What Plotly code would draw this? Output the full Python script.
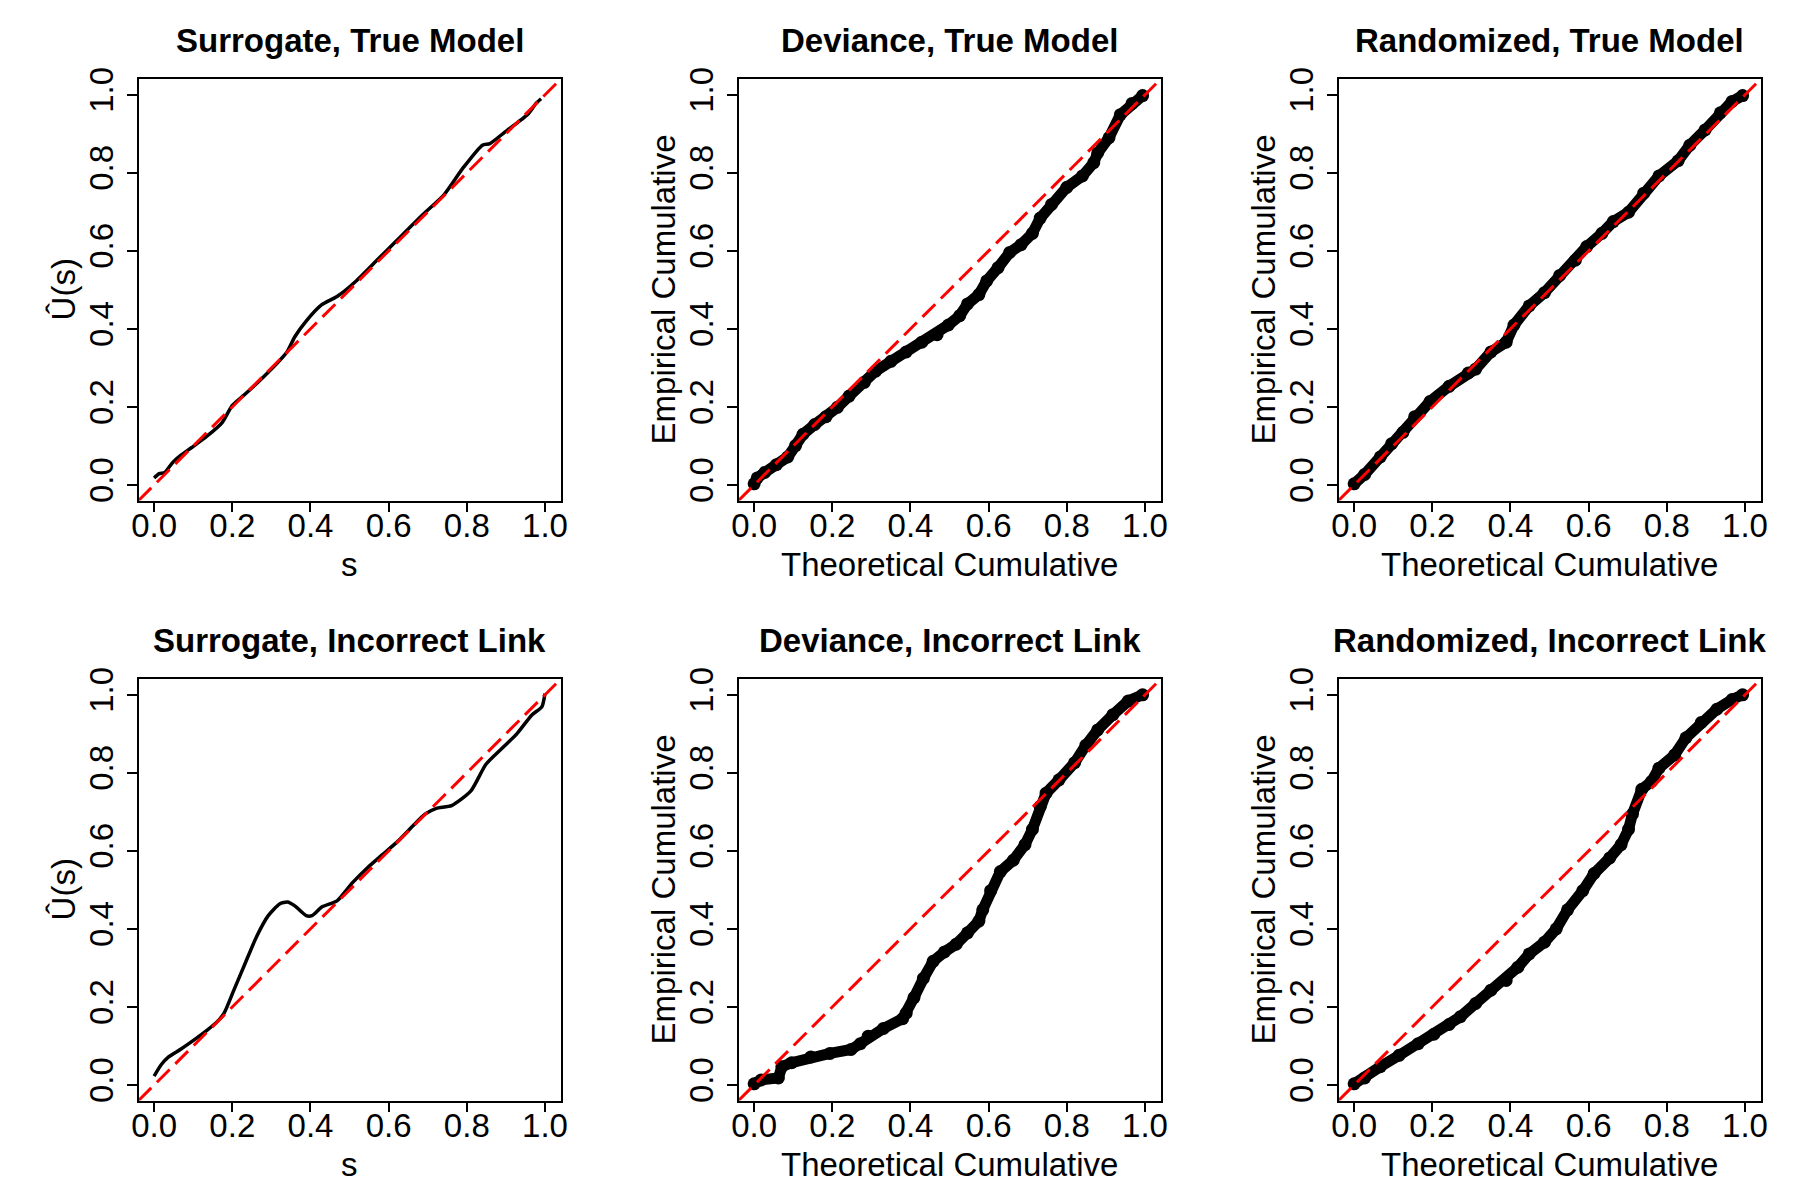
import plotly.graph_objects as go

# ---------------- data ----------------
# Panel 1: Surrogate, True Model (smooth line)
sur_true_s = [0.0, 0.013, 0.027, 0.047, 0.067, 0.096, 0.135, 0.174, 0.2, 0.233, 0.29, 0.34, 0.36,
              0.389, 0.429, 0.468, 0.517, 0.566, 0.624, 0.683, 0.741, 0.79, 0.84, 0.859, 0.898,
              0.957, 0.977, 0.99]
sur_true_u = [0.018, 0.029, 0.032, 0.057, 0.075, 0.096, 0.125, 0.16, 0.204, 0.233, 0.287, 0.341, 0.38,
              0.42, 0.462, 0.483, 0.523, 0.572, 0.63, 0.689, 0.743, 0.812, 0.871, 0.875, 0.905,
              0.951, 0.978, 0.99]

# Panel 2: Deviance, True Model (points)
dev_true_x = [0.0, 0.008, 0.027, 0.057, 0.086, 0.106, 0.125, 0.155, 0.184, 0.213, 0.243, 0.282, 0.311,
              0.35, 0.389, 0.429, 0.468, 0.497, 0.526, 0.546, 0.575, 0.595, 0.624, 0.654, 0.683,
              0.712, 0.732, 0.761, 0.8, 0.84, 0.869, 0.879, 0.908, 0.937, 0.967, 0.994]
dev_true_y = [0.003, 0.018, 0.032, 0.052, 0.072, 0.101, 0.13, 0.155, 0.175, 0.199, 0.228, 0.263, 0.292,
              0.317, 0.341, 0.366, 0.385, 0.41, 0.434, 0.464, 0.488, 0.523, 0.557, 0.596, 0.616,
              0.645, 0.684, 0.719, 0.763, 0.792, 0.826, 0.851, 0.89, 0.949, 0.978, 0.998]

# Panel 3: Randomized, True Model (points)
rnd_true_x = [0.0, 0.027, 0.067, 0.096, 0.125, 0.155, 0.194, 0.243, 0.292, 0.311, 0.35, 0.389, 0.409,
              0.448, 0.487, 0.526, 0.566, 0.595, 0.634, 0.663, 0.702, 0.741, 0.78, 0.829, 0.859,
              0.898, 0.937, 0.967, 0.994]
rnd_true_y = [0.003, 0.027, 0.072, 0.106, 0.135, 0.175, 0.214, 0.253, 0.287, 0.297, 0.341, 0.366, 0.41,
              0.459, 0.493, 0.537, 0.576, 0.611, 0.645, 0.675, 0.699, 0.748, 0.792, 0.831, 0.871,
              0.91, 0.954, 0.983, 0.998]

# Panel 4: Surrogate, Incorrect Link (smooth line)
sur_inc_s = [0.0, 0.018, 0.037, 0.067, 0.096, 0.135, 0.164, 0.179, 0.204, 0.233, 0.262, 0.292, 0.321,
             0.341, 0.36, 0.389, 0.404, 0.429, 0.468, 0.507, 0.546, 0.585, 0.624, 0.663, 0.693,
             0.722, 0.761, 0.81, 0.849, 0.888, 0.928, 0.967, 0.992, 1.0]
sur_inc_u = [0.023, 0.052, 0.072, 0.091, 0.111, 0.14, 0.165, 0.184, 0.243, 0.312, 0.38, 0.434, 0.464,
             0.469, 0.459, 0.434, 0.434, 0.456, 0.472, 0.518, 0.557, 0.591, 0.625, 0.665, 0.694,
             0.709, 0.716, 0.753, 0.822, 0.861, 0.9, 0.949, 0.969, 1.003]

# Panel 5: Deviance, Incorrect Link (points)
dev_inc_x = [0.0, 0.018, 0.062, 0.071, 0.096, 0.145, 0.194, 0.248, 0.272, 0.292, 0.331, 0.38, 0.389,
             0.409, 0.433, 0.458, 0.487, 0.517, 0.546, 0.575, 0.585, 0.605, 0.63, 0.663, 0.693,
             0.712, 0.732, 0.747, 0.78, 0.82, 0.849, 0.879, 0.918, 0.957, 0.994]
dev_inc_y = [0.003, 0.013, 0.018, 0.047, 0.057, 0.072, 0.081, 0.091, 0.106, 0.125, 0.145, 0.17, 0.184,
             0.224, 0.273, 0.317, 0.341, 0.361, 0.39, 0.42, 0.449, 0.498, 0.547, 0.576, 0.616,
             0.655, 0.714, 0.748, 0.782, 0.826, 0.871, 0.91, 0.949, 0.984, 1.0]

# Panel 6: Randomized, Incorrect Link (points)
rnd_inc_x = [0.0, 0.027, 0.067, 0.115, 0.164, 0.204, 0.243, 0.272, 0.311, 0.35, 0.389, 0.419, 0.448,
             0.487, 0.517, 0.546, 0.585, 0.614, 0.654, 0.683, 0.702, 0.712, 0.736, 0.761, 0.78,
             0.82, 0.849, 0.888, 0.928, 0.967, 0.994]
rnd_inc_y = [0.003, 0.018, 0.047, 0.076, 0.106, 0.13, 0.155, 0.175, 0.209, 0.243, 0.268, 0.302, 0.336,
             0.366, 0.4, 0.449, 0.498, 0.542, 0.582, 0.616, 0.655, 0.694, 0.758, 0.778, 0.812,
             0.846, 0.89, 0.929, 0.963, 0.988, 1.0]

titles = ["Surrogate, True Model", "Deviance, True Model", "Randomized, True Model",
          "Surrogate, Incorrect Link", "Deviance, Incorrect Link", "Randomized, Incorrect Link"]
xlabels = ["s", "Theoretical Cumulative", "Theoretical Cumulative",
           "s", "Theoretical Cumulative", "Theoretical Cumulative"]
ylabels = ["Û(s)", "Empirical Cumulative", "Empirical Cumulative",
           "Û(s)", "Empirical Cumulative", "Empirical Cumulative"]
tick_vals = [0.0, 0.2, 0.4, 0.6, 0.8, 1.0]
tick_text = ["0.0", "0.2", "0.4", "0.6", "0.8", "1.0"]
axis_range = [-0.04, 1.04]

panels = [
    (sur_true_s, sur_true_u, "line"),
    (dev_true_x, dev_true_y, "points"),
    (rnd_true_x, rnd_true_y, "points"),
    (sur_inc_s, sur_inc_u, "line"),
    (dev_inc_x, dev_inc_y, "points"),
    (rnd_inc_x, rnd_inc_y, "points"),
]

# ---------------- layout geometry (pixels in 1800x1200) ----------------
W, H = 1800, 1200
col_left = [138.5, 738.5, 1338.5]
row_top = [79.2, 679.2]
box_w, box_h = 422.1, 421.4

FONT = "Liberation Sans, Arial, Helvetica, sans-serif"

fig = go.Figure()
layout = dict(
    template="none",
    width=W, height=H,
    margin=dict(l=0, r=0, t=0, b=0, pad=0),
    paper_bgcolor="white", plot_bgcolor="white",
    showlegend=False,
    font=dict(family=FONT, size=33, color="black"),
)
annotations = []

for i, (xs, ys, kind) in enumerate(panels):
    r, c = divmod(i, 3)
    n = i + 1
    xa = "xaxis" if n == 1 else f"xaxis{n}"
    ya = "yaxis" if n == 1 else f"yaxis{n}"
    xref = "x" if n == 1 else f"x{n}"
    yref = "y" if n == 1 else f"y{n}"
    x0 = col_left[c] / W
    x1 = (col_left[c] + box_w) / W
    y1 = 1 - row_top[r] / H
    y0 = 1 - (row_top[r] + box_h) / H

    common = dict(
        range=axis_range, tickvals=tick_vals, ticktext=tick_text,
        ticks="outside", ticklen=10, tickwidth=1.5, tickcolor="black",
        showline=True, linecolor="black", linewidth=1.5, mirror=True,
        showgrid=False, zeroline=False, automargin=False,
        tickfont=dict(family=FONT, size=33, color="black"),
    )
    layout[xa] = dict(domain=[x0, x1], anchor=yref, ticklabelstandoff=-15, **common)
    layout[ya] = dict(domain=[y0, y1], anchor=xref, tickangle=-90, ticklabelstandoff=1, **common)

    if kind == "line":
        fig.add_trace(go.Scatter(x=xs, y=ys, mode="lines", xaxis=xref, yaxis=yref,
                                 line=dict(color="black", width=3.5, shape="spline", smoothing=0.6)))
    else:
        fig.add_trace(go.Scatter(x=xs, y=ys, mode="lines+markers", xaxis=xref, yaxis=yref,
                                 line=dict(color="black", width=11),
                                 marker=dict(symbol="circle", size=13, color="black")))
    # reference line y = x across the full plotting region
    fig.add_trace(go.Scatter(x=axis_range, y=axis_range, mode="lines", xaxis=xref, yaxis=yref,
                             line=dict(color="#ff0000", width=3, dash="18px,8px")))

    cx = (col_left[c] + box_w / 2) / W
    cy = row_top[r] + box_h / 2
    annotations.append(dict(text=f"<b>{titles[i]}</b>", x=cx, y=1 - (row_top[r] - 39) / H,
                            xref="paper", yref="paper", showarrow=False,
                            xanchor="center", yanchor="middle",
                            font=dict(family=FONT, size=33, color="black")))
    annotations.append(dict(text=xlabels[i], x=cx, y=1 - (row_top[r] + box_h + 64) / H,
                            xref="paper", yref="paper", showarrow=False,
                            xanchor="center", yanchor="middle",
                            font=dict(family=FONT, size=33, color="black")))
    annotations.append(dict(text=ylabels[i], x=(col_left[c] - 75) / W, y=1 - cy / H,
                            xref="paper", yref="paper", showarrow=False, textangle=-90,
                            xanchor="center", yanchor="middle",
                            font=dict(family=FONT, size=33, color="black")))

layout["annotations"] = annotations
fig.update_layout(**layout)
fig.write_html("out.html")
